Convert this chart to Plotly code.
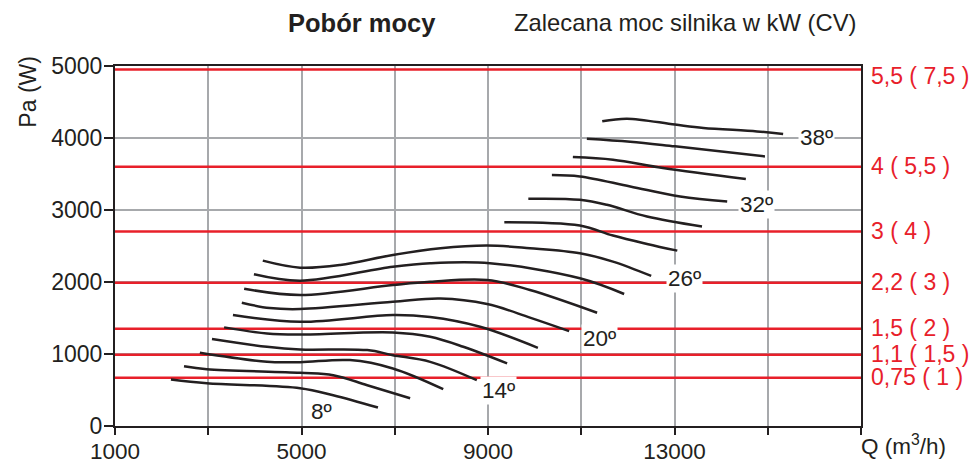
import plotly.graph_objects as go

# ---- data ----
angles = ["8º", "10º", "12º", "14º", "16º", "18º", "20º", "22º", "24º", "26º",
          "28º", "30º", "32º", "34º", "36º", "38º"]

curve_x = [
    [2200, 2970, 4970, 5680, 6640],
    [2480, 2970, 4970, 5680, 6410, 7330],
    [2820, 4260, 4970, 6040, 6960, 8040],
    [3080, 4260, 4970, 6410, 6960, 7760, 8760],
    [3340, 4260, 4970, 6960, 7760, 8470, 9410],
    [3530, 4970, 6960, 7760, 8830, 10070],
    [3720, 4320, 4970, 6960, 7980, 8980, 9900, 10740],
    [3770, 4970, 6960, 7760, 8980, 9900, 11340],
    [3980, 4970, 6960, 7760, 9040, 10970, 11920],
    [4170, 4970, 5830, 6960, 7980, 8980, 9900, 10970, 11680, 12500],
    [9350, 10970, 11680, 12410, 13060],
    [9865, 10970, 11550, 12410, 13590],
    [10370, 10970, 12050, 13120, 14130],
    [10820, 11680, 12750, 14530],
    [11120, 12050, 13010, 14940],
    [11450, 11980, 13010, 13620, 14770, 15330],
]
curve_y = [
    [646, 594, 525, 427, 256],
    [831, 789, 738, 706, 567, 386],
    [1016, 891, 887, 915, 799, 511],
    [1207, 1100, 1063, 1054, 984, 891, 636],
    [1370, 1286, 1272, 1300, 1239, 1100, 869],
    [1541, 1448, 1541, 1513, 1378, 1086],
    [1712, 1638, 1624, 1726, 1771, 1694, 1506, 1318],
    [1907, 1819, 1958, 2004, 2028, 1889, 1573],
    [2108, 2019, 2213, 2261, 2261, 2052, 1833],
    [2297, 2199, 2237, 2376, 2469, 2506, 2469, 2400, 2283, 2084],
    [2831, 2784, 2645, 2529, 2436],
    [3156, 3142, 3072, 2909, 2770],
    [3486, 3466, 3327, 3188, 3118],
    [3736, 3699, 3583, 3430],
    [3991, 3949, 3884, 3744],
    [4232, 4269, 4186, 4140, 4092, 4056],
]

# labelled angles and their label positions (Q, Pa)
label_text = ["8º", "14º", "20º", "26º", "32º", "38º"]
label_x = [5430, 9215, 11400, 13205, 14764, 16051]
label_y = [195, 497, 1217, 2052, 3072, 4001]

# recommended motor power lines (Pa) and labels
power_levels = [4950, 3600, 2700, 1990, 1350, 990, 670]
power_labels = ["5,5 ( 7,5 )", "4 ( 5,5 )", "3 ( 4 )", "2,2 ( 3 )",
                "1,5 ( 2 )", "1,1 ( 1,5 )", "0,75 ( 1 )"]

x_ticks = [1000, 3000, 5000, 7000, 9000, 11000, 13000, 15000, 17000]
x_ticktext = ["1000", "", "5000", "", "9000", "", "13000", "", ""]
y_ticks = [0, 1000, 2000, 3000, 4000, 5000]

FONT = "Liberation Sans, Arial, sans-serif"
BLACK = "#231f20"
RED = "#e8202a"

fig = go.Figure()

for v in power_levels:
    fig.add_trace(go.Scatter(x=[1000, 17000], y=[v, v], mode="lines",
                             line=dict(color=RED, width=2.5),
                             hoverinfo="skip", showlegend=False))

for name, xs, ys in zip(angles, curve_x, curve_y):
    fig.add_trace(go.Scatter(x=xs, y=ys, mode="lines", name=name,
                             line=dict(color=BLACK, width=2.5, shape="spline", smoothing=1.0),
                             showlegend=False))

annotations = []
for t, x, y in zip(label_text, label_x, label_y):
    annotations.append(dict(x=x, y=y, xref="x", yref="y", text=t, showarrow=False,
                            font=dict(family=FONT, size=22.5, color=BLACK),
                            bgcolor="white", borderpad=1))

for i, (v, t) in enumerate(zip(power_levels, power_labels)):
    annotations.append(dict(x=1, y=v, xref="paper", yref="y", text=t, showarrow=False,
                            xanchor="left", yanchor="middle", xshift=8,
                            yshift=-6 if i == 0 else 1,
                            font=dict(family=FONT, size=23, color=RED)))

annotations += [
    dict(x=0.331, y=1.12, xref="paper", yref="paper", text="<b>Pobór mocy</b>",
         showarrow=False, xanchor="center", yanchor="middle",
         font=dict(family=FONT, size=25.5, color=BLACK)),
    dict(x=0.765, y=1.12, xref="paper", yref="paper", text="Zalecana moc silnika w kW (CV)",
         showarrow=False, xanchor="center", yanchor="middle",
         font=dict(family=FONT, size=23.8, color=BLACK)),
    dict(x=-0.117, y=0.928, xref="paper", yref="paper", text="Pa (W)", textangle=-90,
         showarrow=False, xanchor="center", yanchor="middle",
         font=dict(family=FONT, size=23, color=BLACK)),
    dict(x=1.057, y=-0.054, xref="paper", yref="paper", text="Q (m<sup>3</sup>/h)",
         showarrow=False, xanchor="center", yanchor="middle",
         font=dict(family=FONT, size=22.5, color=BLACK)),
]

fig.update_layout(
    width=977, height=465,
    margin=dict(l=115, r=116, t=66, b=39),
    paper_bgcolor="white", plot_bgcolor="white",
    annotations=annotations,
    xaxis=dict(range=[1000, 17000], tickvals=x_ticks, ticktext=x_ticktext,
               automargin=False,
               showgrid=True, gridcolor="#a7a9ac", gridwidth=1.5,
               showline=True, linecolor=BLACK, linewidth=2, mirror=True,
               ticks="outside", ticklen=7, tickwidth=2, tickcolor=BLACK,
               ticklabelstandoff=-3,
               tickfont=dict(family=FONT, size=22.5, color=BLACK), zeroline=False),
    yaxis=dict(range=[0, 5000], tickvals=y_ticks, automargin=False,
               showgrid=True, gridcolor="#a7a9ac", gridwidth=1.5,
               showline=True, linecolor=BLACK, linewidth=2, mirror=True,
               ticks="outside", ticklen=9, tickwidth=2, tickcolor=BLACK,
               ticklabelstandoff=-3,
               tickfont=dict(family=FONT, size=23, color=BLACK), zeroline=False),
)

fig.write_html("out.html")
